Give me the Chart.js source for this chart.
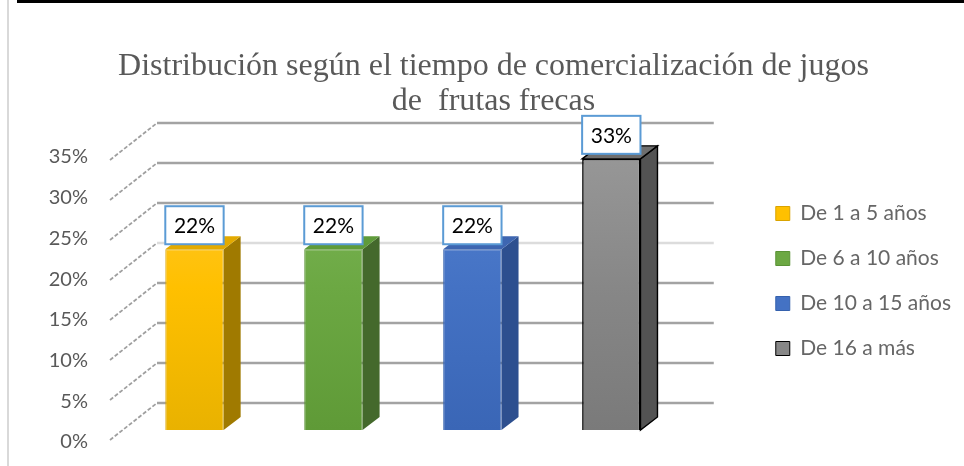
<!DOCTYPE html>
<html>
<head>
<meta charset="utf-8">
<script src="https://cdn.jsdelivr.net/npm/chart.js@4"></script>
<style>
  html, body { margin: 0; padding: 0; background: #ffffff; }
  #wrap { position: relative; width: 964px; height: 466px; overflow: hidden; }
  #topbar { position: absolute; left: 17px; top: 0; width: 947px; height: 3px; background: #000; }
  #leftbar { position: absolute; left: 7px; top: 0; width: 2px; height: 466px; background: #d9d9d9; }
  canvas { position: absolute; left: 0; top: 0; }
</style>
</head>
<body>
<div id="wrap">
  <canvas id="c" width="964" height="466"></canvas>
  <div id="topbar"></div>
  <div id="leftbar"></div>
</div>
<script>
// ---- data ----
const categories = ['De 1 a 5 años', 'De 6 a 10 años', 'De 10 a 15 años', 'De 16 a más'];
const values = [22.2, 22.2, 22.2, 33.3];          // percent
const yTicks = [0, 5, 10, 15, 20, 25, 30, 35];    // percent tick labels
const chartTitle = ['Distribución según el tiempo de comercialización de jugos', 'de  frutas frecas'];

// ---- styles ----
const frontTop    = ['#FFC93F', '#7EB75B', '#5482D0', '#989898'];
const frontMid    = ['#FFC000', '#6CA843', '#4472C4', '#878787'];
const frontBottom = ['#E9B200', '#5F9A37', '#3A66B6', '#7A7A7A'];
const sideColor   = ['#A07A00', '#44692C', '#2D4F8F', '#535353'];
const topColor    = ['#E3AA00', '#5F9B3A', '#3E66B1', '#6E6E6E'];
const edgeColor   = ['#D9A300', '#5A9236', '#3561AD', '#000000'];
const edgeWidth   = [1, 1, 1, 1.6];

const WALL_DX = 33, WALL_DY = 27, BAR_DX = 17, BAR_DY = 13;

function frontFill(ctx) {
  const chart = ctx.chart, a = chart.chartArea, i = ctx.dataIndex;
  if (!a || i === undefined) return frontMid[i || 0];
  const g = chart.ctx.createLinearGradient(0, a.top, 0, a.bottom);
  g.addColorStop(0, frontTop[i]);
  g.addColorStop(0.5, frontMid[i]);
  g.addColorStop(1, frontBottom[i]);
  return g;
}

function poly(ctx, pts, fill, stroke, lw) {
  ctx.beginPath();
  ctx.moveTo(pts[0][0], pts[0][1]);
  for (let k = 1; k < pts.length; k++) ctx.lineTo(pts[k][0], pts[k][1]);
  ctx.closePath();
  ctx.fillStyle = fill;
  ctx.fill();
  if (stroke) { ctx.strokeStyle = stroke; ctx.lineWidth = lw; ctx.stroke(); }
}

const threeD = {
  id: 'threeD',
  beforeDatasetsDraw(chart) {
    const { ctx, chartArea: a, scales: { y } } = chart;
    const y0 = y.getPixelForValue(0);
    const yTop = y.getPixelForValue(yTicks[yTicks.length - 1]);
    const k = 280 / (y0 - yTop);
    ctx.save();
    y.ticks.forEach(t => {
      const yf = y.getPixelForValue(t.value);
      const yb = y0 - WALL_DY - (y0 - yf) * k;
      // back wall gridline
      ctx.setLineDash([]);
      ctx.strokeStyle = t.value === 20 ? '#dcdcdc' : '#a3a3a3';
      ctx.lineWidth = 2.5;
      ctx.beginPath();
      ctx.moveTo(a.left + WALL_DX - 1, yb);
      ctx.lineTo(a.right + WALL_DX, yb);
      ctx.stroke();
      // side wall (perspective) tick
      ctx.strokeStyle = '#a0a0a0';
      ctx.lineWidth = 1.8;
      ctx.setLineDash([4, 2]);
      ctx.beginPath();
      ctx.moveTo(a.left - 15, yb + 37);
      ctx.lineTo(a.left + WALL_DX - 1, yb);
      ctx.stroke();
    });
    ctx.restore();
  },
  afterDatasetsDraw(chart) {
    const { ctx } = chart;
    const meta = chart.getDatasetMeta(0);
    ctx.save();
    meta.data.forEach((bar, i) => {
      const { x, y, base, width } = bar.getProps(['x', 'y', 'base', 'width'], true);
      const l = x - width / 2, r = x + width / 2;
      const st = i === 3 ? '#000' : null;
      // side face
      poly(ctx, [[r, y], [r + BAR_DX, y - BAR_DY], [r + BAR_DX, base - BAR_DY], [r, base]], sideColor[i], st, 1.4);
      // top face
      poly(ctx, [[l, y], [l + BAR_DX, y - BAR_DY], [r + BAR_DX, y - BAR_DY], [r, y]], topColor[i], st, 1.4);
      // data label box
      const bh = 38, bb = y - 5;
      ctx.fillStyle = '#ffffff';
      ctx.fillRect(l, bb - bh, width, bh);
      ctx.strokeStyle = '#5B9BD5';
      ctx.lineWidth = 2;
      ctx.strokeRect(l, bb - bh, width, bh);
      ctx.fillStyle = '#000000';
      ctx.font = '21px Lato';
      ctx.textAlign = 'center';
      ctx.textBaseline = 'middle';
      ctx.fillText(Math.round(values[i]) + '%', x, bb - bh / 2 + 1);
    });
    ctx.restore();
  }
};

new Chart(document.getElementById('c'), {
  type: 'bar',
  data: {
    labels: categories,
    datasets: [{
      data: values,
      backgroundColor: frontFill,
      borderColor: edgeColor,
      borderWidth: edgeWidth,
      barPercentage: 0.42,
      categoryPercentage: 1
    }]
  },
  options: {
    responsive: false,
    animation: false,
    layout: { padding: { left: 26, right: 3, top: 0, bottom: 36 } },
    scales: {
      x: { display: false },
      y: {
        min: 0, max: 35,
        afterFit: s => { s.width = 99; },
        afterBuildTicks: s => { s.ticks = yTicks.map(v => ({ value: v })); },
        grid: { display: false, drawTicks: true, tickLength: 35 },
        border: { display: false },
        ticks: {
          padding: 2,
          labelOffset: 12,
          color: '#595959',
          font: { family: 'Lato', size: 20 },
          callback: v => v + '%'
        }
      },
      y2: {
        position: 'right',
        display: false,
        afterFit: s => { s.width = 71; }
      }
    },
    plugins: {
      title: {
        display: true,
        text: chartTitle,
        color: '#595959',
        font: { family: 'Liberation Serif', size: 32, weight: 'normal', lineHeight: 35 / 32 },
        padding: { top: 49, bottom: 26 }
      },
      legend: {
        position: 'right',
        fullSize: false,
        align: 'start',
        title: {
          display: true,
          text: ' ',
          font: { family: 'Lato', size: 20, lineHeight: 1.2 },
          padding: { top: 10, bottom: 0 }
        },
        labels: {
          color: '#595959',
          font: { family: 'Lato', size: 21 },
          boxWidth: 14,
          boxHeight: 14,
          padding: 24,
          generateLabels: chart => categories.map((c, i) => ({
            text: c,
            fillStyle: frontMid[i],
            strokeStyle: i === 3 ? '#000' : edgeColor[i],
            lineWidth: 1,
            hidden: false,
            index: i
          }))
        }
      },
      tooltip: { enabled: false }
    }
  },
  plugins: [threeD]
});
</script>
</body>
</html>
